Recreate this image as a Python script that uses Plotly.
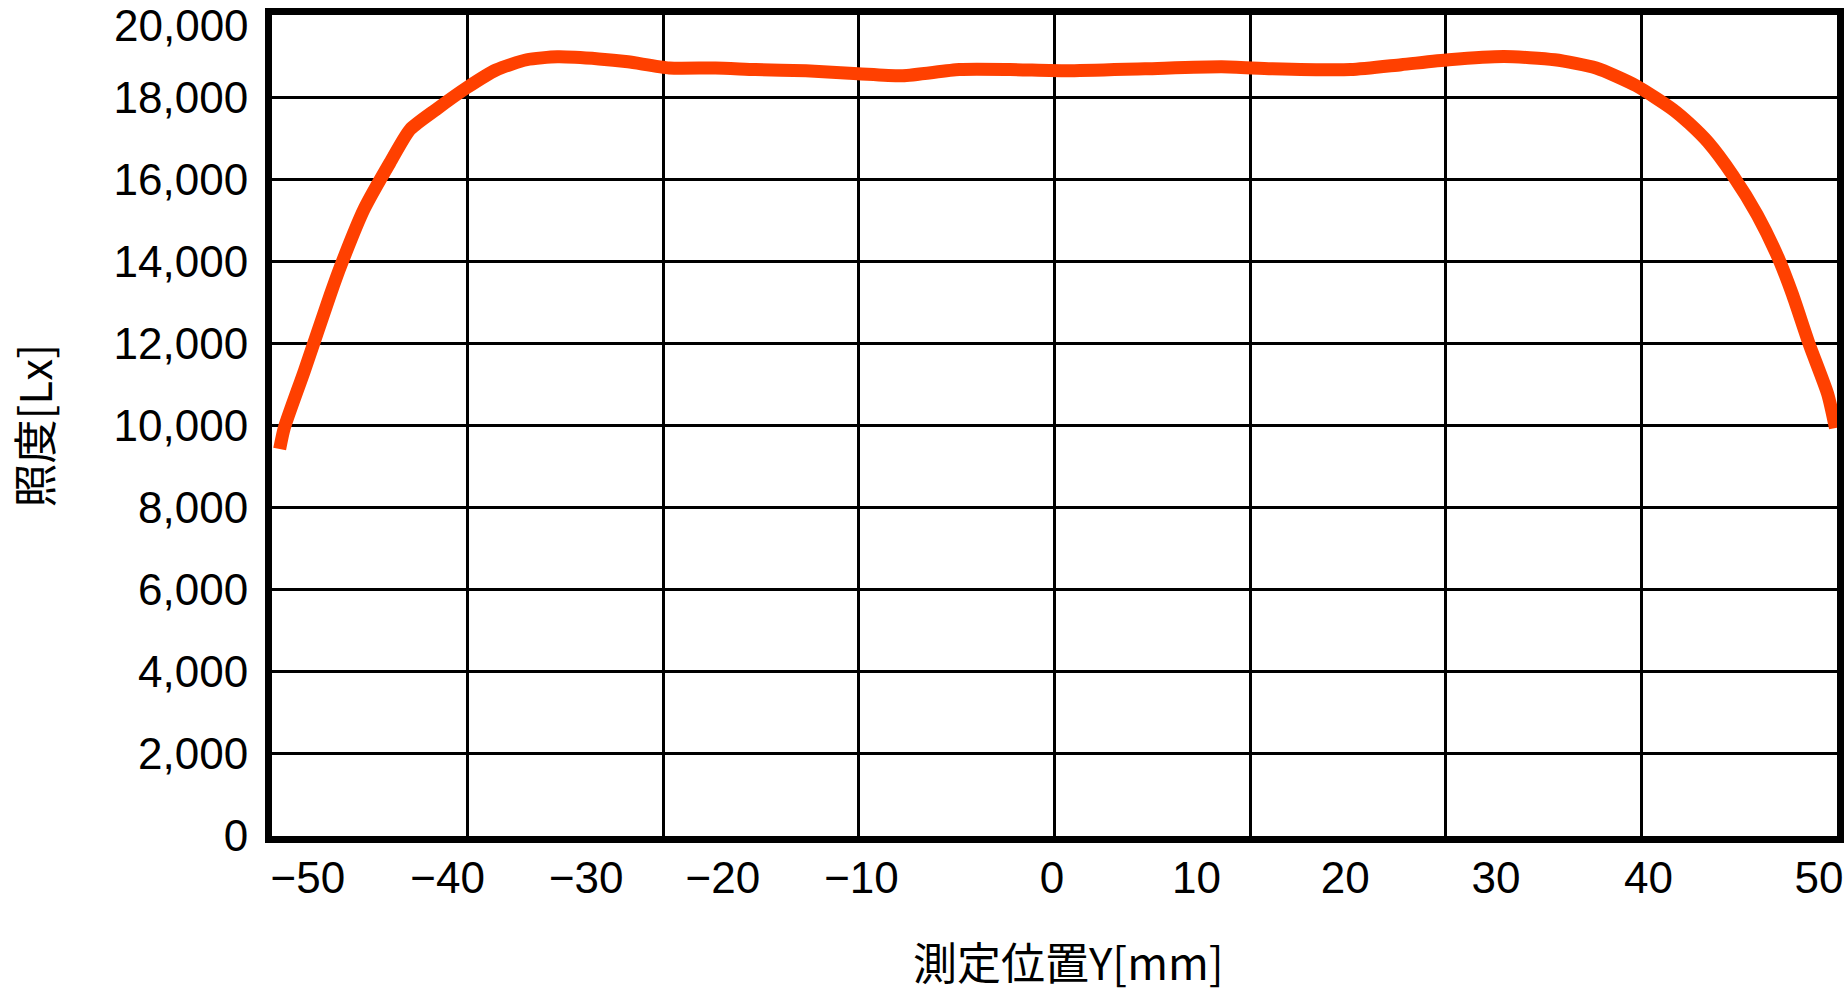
import plotly.graph_objects as go

# measured illuminance along Y
pos_mm = [-50.5, -50.2, -48.9, -47.2, -46.5, -45.0, -43.3, -42.0, -40.3, -38.3,
          -36.4, -34.4, -32.4, -29.7, -27.8, -25.1, -22.1, -19.5, -16.2, -12.8,
          -9.9, -6.2, -2.9, 0.8, 5.9, 10.9, 14.2, 19.3, 22.6, 25.7,
          29.3, 32.6, 35.3, 37.9, 40.3, 41.4, 42.6, 44.2, 45.8, 47.2,
          48.1, 49.2, 50.4, 50.9]
lux = [9430, 9940, 11320, 13190, 13910, 15270, 16410, 17210, 17700, 18230,
       18660, 18910, 18980, 18930, 18860, 18710, 18710, 18670, 18640, 18570,
       18520, 18670, 18670, 18640, 18690, 18740, 18690, 18670, 18790, 18910,
       18990, 18910, 18710, 18280, 17700, 17350, 16900, 16100, 15130, 14060,
       13190, 11970, 10760, 9940]

x_labels = ["−50", "−40", "−30", "−20", "−10", "0", "10", "20", "30", "40", "50"]
y_ticks = list(range(0, 20001, 2000))

# the label text sits where the original drawing put it, not on the grid
label_at = [-48.66, -39.56, -30.52, -21.62, -12.58, -0.16, 9.26, 18.95, 28.77, 38.71, 49.83]

fig = go.Figure()
fig.add_trace(go.Scatter(
    x=pos_mm, y=lux, mode="lines",
    line=dict(color="#FF4000", width=13, shape="spline", smoothing=0.6),
    showlegend=False, hoverinfo="skip",
))

num_font = dict(family="Liberation Sans, Arial, sans-serif", size=44, color="black")
jp_font = dict(family="Noto Sans CJK JP, sans-serif", size=44, color="black")

fig.update_layout(
    width=1846, height=993,
    margin=dict(l=272, r=9, t=15, b=157),
    paper_bgcolor="white", plot_bgcolor="white",
    xaxis=dict(
        range=[-51, 51], showgrid=False, zeroline=False, automargin=False,
        tickmode="array", tickvals=label_at, ticktext=x_labels,
        tickfont=num_font, ticks="", ticklabelstandoff=-3,
        showline=True, linecolor="black", linewidth=7, mirror=True,
    ),
    xaxis2=dict(
        overlaying="x", range=[-51, 51], tick0=-51, dtick=12.75,
        showgrid=True, gridcolor="black", gridwidth=3, automargin=False,
        showticklabels=False, ticks="", zeroline=False, showline=False,
    ),
    yaxis=dict(
        range=[0, 20000], tickmode="array", tickvals=y_ticks[:-1],
        tickformat=",d", tickfont=num_font, ticks="", ticklabelstandoff=8,
        showgrid=True, gridcolor="black", gridwidth=3, zeroline=False,
        automargin=False,
        showline=True, linecolor="black", linewidth=7, mirror=True,
    ),
)
# top label would be clipped at the edge, so it is pushed just below the frame line
fig.add_annotation(
    x=0, xref="paper", y=y_ticks[-1], yref="y",
    text=f"{y_ticks[-1]:,}", showarrow=False, font=num_font,
    xanchor="right", yanchor="top", xshift=-21, yshift=16,
)
# axis titles as annotations so they can be put exactly where the original has them
fig.add_annotation(
    x=0.509, xref="paper", y=0, yref="paper",
    text="測定位置Y[mm]", showarrow=False, font=jp_font,
    xanchor="center", yanchor="middle", yshift=-125,
)
fig.add_annotation(
    x=0, xref="paper", y=0.5, yref="paper",
    text="照度[Lx]", showarrow=False, font=jp_font, textangle=-90,
    xanchor="center", yanchor="middle", xshift=-240,
)
# dummy trace so the grid axis gets drawn
fig.add_trace(go.Scatter(x=[None], y=[None], xaxis="x2", showlegend=False, hoverinfo="skip"))

fig.write_html("out.html", config={"displayModeBar": False},
               post_script="document.body.style.margin='0';")
